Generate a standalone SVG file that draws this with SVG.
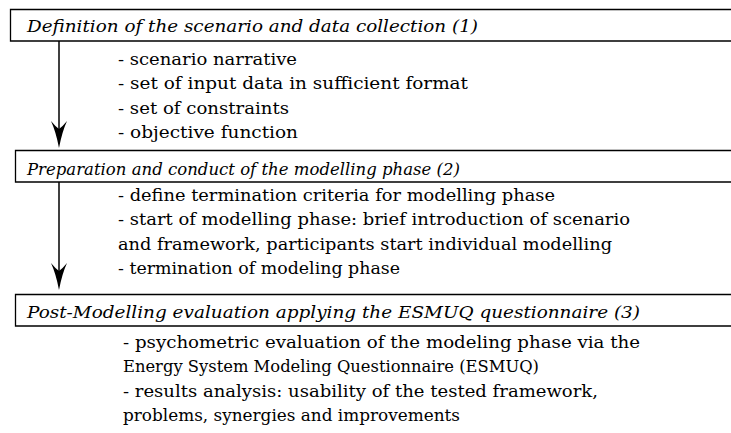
<svg xmlns="http://www.w3.org/2000/svg" width="731" height="433" viewBox="0 0 731 433">
<style>
.box{fill:#fff;stroke:#000;stroke-width:1.3}
text{font-family:'DejaVu Serif','Liberation Serif',serif;font-size:17.5px;fill:#000}
.hd{font-style:italic}
.ln{stroke:#000;stroke-width:1.5;fill:none}
.ah{fill:#000;stroke:none}
</style>
<rect width="731" height="433" fill="#fff"/>
<g id="connectors">
<line class="ln" x1="59" y1="41" x2="59" y2="135"/>
<path class="ah" d="M59,148 Q56,132 51,121 Q55,126 59,129 Q63,126 67,121 Q62,132 59,148 Z"/>
<line class="ln" x1="59" y1="182" x2="59" y2="277"/>
<path class="ah" d="M59,290 Q56,274 51,263 Q55,268 59,271 Q63,268 67,263 Q62,274 59,290 Z"/>
</g>
<g id="node1">
<path class="box" d="M740,9.5 H10.5 V41 H740"/>
<text class="hd" x="27" y="32" textLength="451" lengthAdjust="spacingAndGlyphs">Definition of the scenario and data collection (1)</text>
<text x="118" y="65" textLength="179" lengthAdjust="spacingAndGlyphs">- scenario narrative</text>
<text x="118" y="89" textLength="350" lengthAdjust="spacingAndGlyphs">- set of input data in sufficient format</text>
<text x="118" y="114" textLength="171" lengthAdjust="spacingAndGlyphs">- set of constraints</text>
<text x="118" y="138" textLength="180" lengthAdjust="spacingAndGlyphs">- objective function</text>
</g>
<g id="node2">
<path class="box" d="M740,150.5 H15.5 V182 H740"/>
<text class="hd" x="27" y="175" textLength="433" lengthAdjust="spacingAndGlyphs">Preparation and conduct of the modelling phase (2)</text>
<text x="118" y="201" textLength="437" lengthAdjust="spacingAndGlyphs">- define termination criteria for modelling phase</text>
<text x="118" y="225" textLength="512" lengthAdjust="spacingAndGlyphs">- start of modelling phase: brief introduction of scenario</text>
<text x="118" y="250" textLength="494" lengthAdjust="spacingAndGlyphs">and framework, participants start individual modelling</text>
<text x="118" y="274" textLength="282" lengthAdjust="spacingAndGlyphs">- termination of modeling phase</text>
</g>
<g id="node3">
<path class="box" d="M740,294.5 H15.5 V326 H740"/>
<text class="hd" x="27" y="318" textLength="613" lengthAdjust="spacingAndGlyphs">Post-Modelling evaluation applying the ESMUQ questionnaire (3)</text>
<text x="123" y="348" textLength="517" lengthAdjust="spacingAndGlyphs">- psychometric evaluation of the modeling phase via the</text>
<text x="123" y="372" textLength="416" lengthAdjust="spacingAndGlyphs">Energy System Modeling Questionnaire (ESMUQ)</text>
<text x="123" y="397" textLength="475" lengthAdjust="spacingAndGlyphs">- results analysis: usability of the tested framework,</text>
<text x="123" y="421" textLength="337" lengthAdjust="spacingAndGlyphs">problems, synergies and improvements</text>
</g>
</svg>
